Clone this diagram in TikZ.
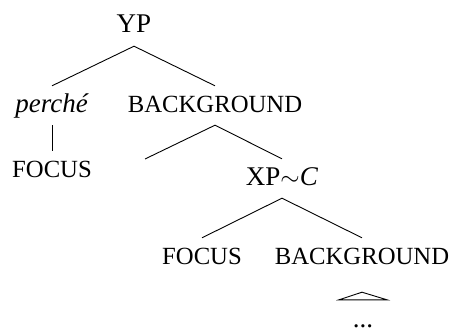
\documentclass[tikz,border=0pt]{standalone}
\usepackage{fontspec}
\setmainfont{Liberation Serif}
\usetikzlibrary{calc}
\begin{document}
\begin{tikzpicture}[x=1pt,y=-1pt,
  lbl/.style={inner xsep=0pt, inner ysep=0pt, text height=26pt, text depth=13pt, anchor=base, font=\fontsize{27}{30}\selectfont},
  capl/.style={lbl, font=\fontsize{24.7}{28}\selectfont},
  branch/.style={line width=0.9pt}]
\useasboundingbox (0,0) rectangle (450,329);
\node[lbl]  (yp)     at (134,33)  {YP};
\node[lbl]  (perche) at (52,112)  {\textit{perché}};
\node[capl] (bg1)    at (215,112) {BACKGROUND};
\node[capl] (focus1) at (52,177)  {FOCUS};
\node[lbl]  (xp)     at (282,185) {XP$\sim$\textit{C}};
\node[capl] (focus2) at (202,264) {FOCUS};
\node[capl] (bg2)    at (362,264) {BACKGROUND};
\node[lbl]  (dots)   at (363,327) {...};
\coordinate (empty) at (145,159);
\draw[branch] (perche.north) -- (yp.south) -- (bg1.north);
\draw[branch] (perche.south) -- (focus1.north);
\draw[branch] (empty) -- (bg1.south) -- (xp.north);
\draw[branch] (focus2.north) -- (xp.south) -- (bg2.north);
\draw[branch] ($(bg2.south)+(0pt,-15pt)$) -- ($(dots.north)+(-24pt,1pt)$) -- ($(dots.north)+(24pt,1pt)$) -- cycle;
\end{tikzpicture}
\end{document}
